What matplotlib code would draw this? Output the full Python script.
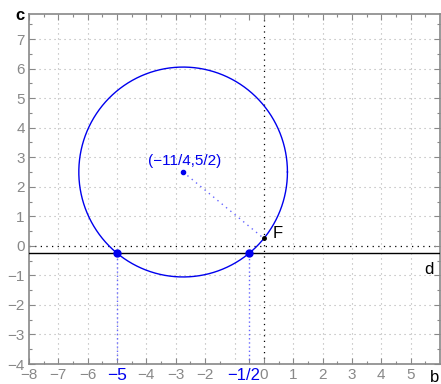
import numpy as np
import matplotlib
matplotlib.use("Agg")
import matplotlib.pyplot as plt
import matplotlib.transforms as mtransforms

plt.rcParams['font.family'] = ['Liberation Sans', 'DejaVu Sans']

center = (-11/4, 5/2)
roots_x = [-5, -1/2]
line_y = -1/4
focus = (0, 1/4)
xticks = [-8, -7, -6, -5, -4, -3, -2, -1/2, 0, 1, 2, 3, 4, 5]
xticklabels = ['−8', '−7', '−6', '−5', '−4', '−3', '−2', '−1/2', '0', '1', '2', '3', '4', '5']
yticks = [-4, -3, -2, -1, 0, 1, 2, 3, 4, 5, 6, 7]
yticklabels = ['−4', '−3', '−2', '−1', '0', '1', '2', '3', '4', '5', '6', '7']

fig = plt.figure(figsize=(4.41, 3.84), dpi=100)
ax = fig.add_axes([29/441, 20/384, 411/441, 350/384])
xmin, xmax, ymin, ymax = -8, 6, -4, 7.85
ax.set_xlim(xmin, xmax)
ax.set_ylim(ymin, ymax)

# grid
for gx in range(-7, 6):
    col = 'black' if gx == 0 else '#b0b0b0'
    ax.axvline(gx, color=col, lw=0.9 if gx == 0 else 0.8, ls=(0, (1, 3.5)), zorder=1)
for gy in range(-3, 8):
    col = 'black' if gy == 0 else '#b0b0b0'
    ax.axhline(gy, color=col, lw=0.9 if gy == 0 else 0.8, ls=(0, (1, 3.5)), zorder=1)

# circle
r = np.hypot(roots_x[0] - center[0], line_y - center[1])
t = np.linspace(0, 2*np.pi, 400)
ax.plot(center[0] + r*np.cos(t), center[1] + r*np.sin(t), color='#0000ee', lw=1.0, zorder=3)

# line d
ax.axhline(line_y, color='black', lw=1.0, zorder=3)

# dotted center-to-focus
ax.plot([center[0], focus[0]], [center[1], focus[1]], color='#6666ff', lw=1.0, ls=(0, (1, 3)), zorder=2)
# vertical dotted from roots
for rx in roots_x:
    ax.plot([rx, rx], [ymin, line_y], color='#6666ff', lw=1.0, ls=(0, (1, 2)), zorder=2)

ax.plot(roots_x, [line_y]*2, 'o', color='#0000ee', ms=5, zorder=4)
ax.plot([center[0]], [center[1]], 'o', color='#0000ee', ms=3, zorder=4)
ax.plot([focus[0]], [focus[1]], 'o', color='black', ms=2.5, zorder=4)

ax.text(center[0] + 0.05, center[1] + 0.12, '(−11/4,5/2)', color='#0000ee', fontsize=11, ha='center', va='bottom')
ax.text(focus[0] + 0.3, focus[1] - 0.1, 'F', color='black', fontsize=12, ha='left', va='bottom')
ax.text(5.45, line_y - 0.3, 'd', color='black', fontsize=12, ha='left', va='top')

ax.set_xticks(xticks)
ax.set_xticklabels(xticklabels)
ax.set_yticks(yticks)
ax.set_yticklabels(yticklabels)
ax.set_xticks(np.arange(-7.5, 6, 1.0), minor=True)
ax.set_yticks(np.arange(-3.5, 8, 1.0), minor=True)
ax.tick_params(which='both', direction='in', color='#888888', top=True, right=True)
ax.tick_params(which='major', length=4, width=0.8, labelsize=11, labelcolor='#888888', pad=3)
ax.tick_params(which='minor', length=2, width=0.8)
for lbl in ax.get_xticklabels():
    if lbl.get_text() in ('−5', '−1/2'):
        lbl.set_color('#0000ee')
        lbl.set_fontsize(12.5)
    if lbl.get_text() == '−1/2':
        lbl.set_fontsize(12)
        lbl.set_transform(lbl.get_transform() + mtransforms.ScaledTranslation(-5/100, 0, fig.dpi_scale_trans))
for s in ax.spines.values():
    s.set_color('#888888')
    s.set_linewidth(1.2)

fig.text(435/441, 1 - 377/384, 'b', fontsize=12, ha='center', va='center', color='black')
fig.text(20/441, 1 - 15/384, 'c', fontsize=12, ha='center', va='center', color='black', fontweight='bold')

fig.savefig('out.png', dpi=100)
